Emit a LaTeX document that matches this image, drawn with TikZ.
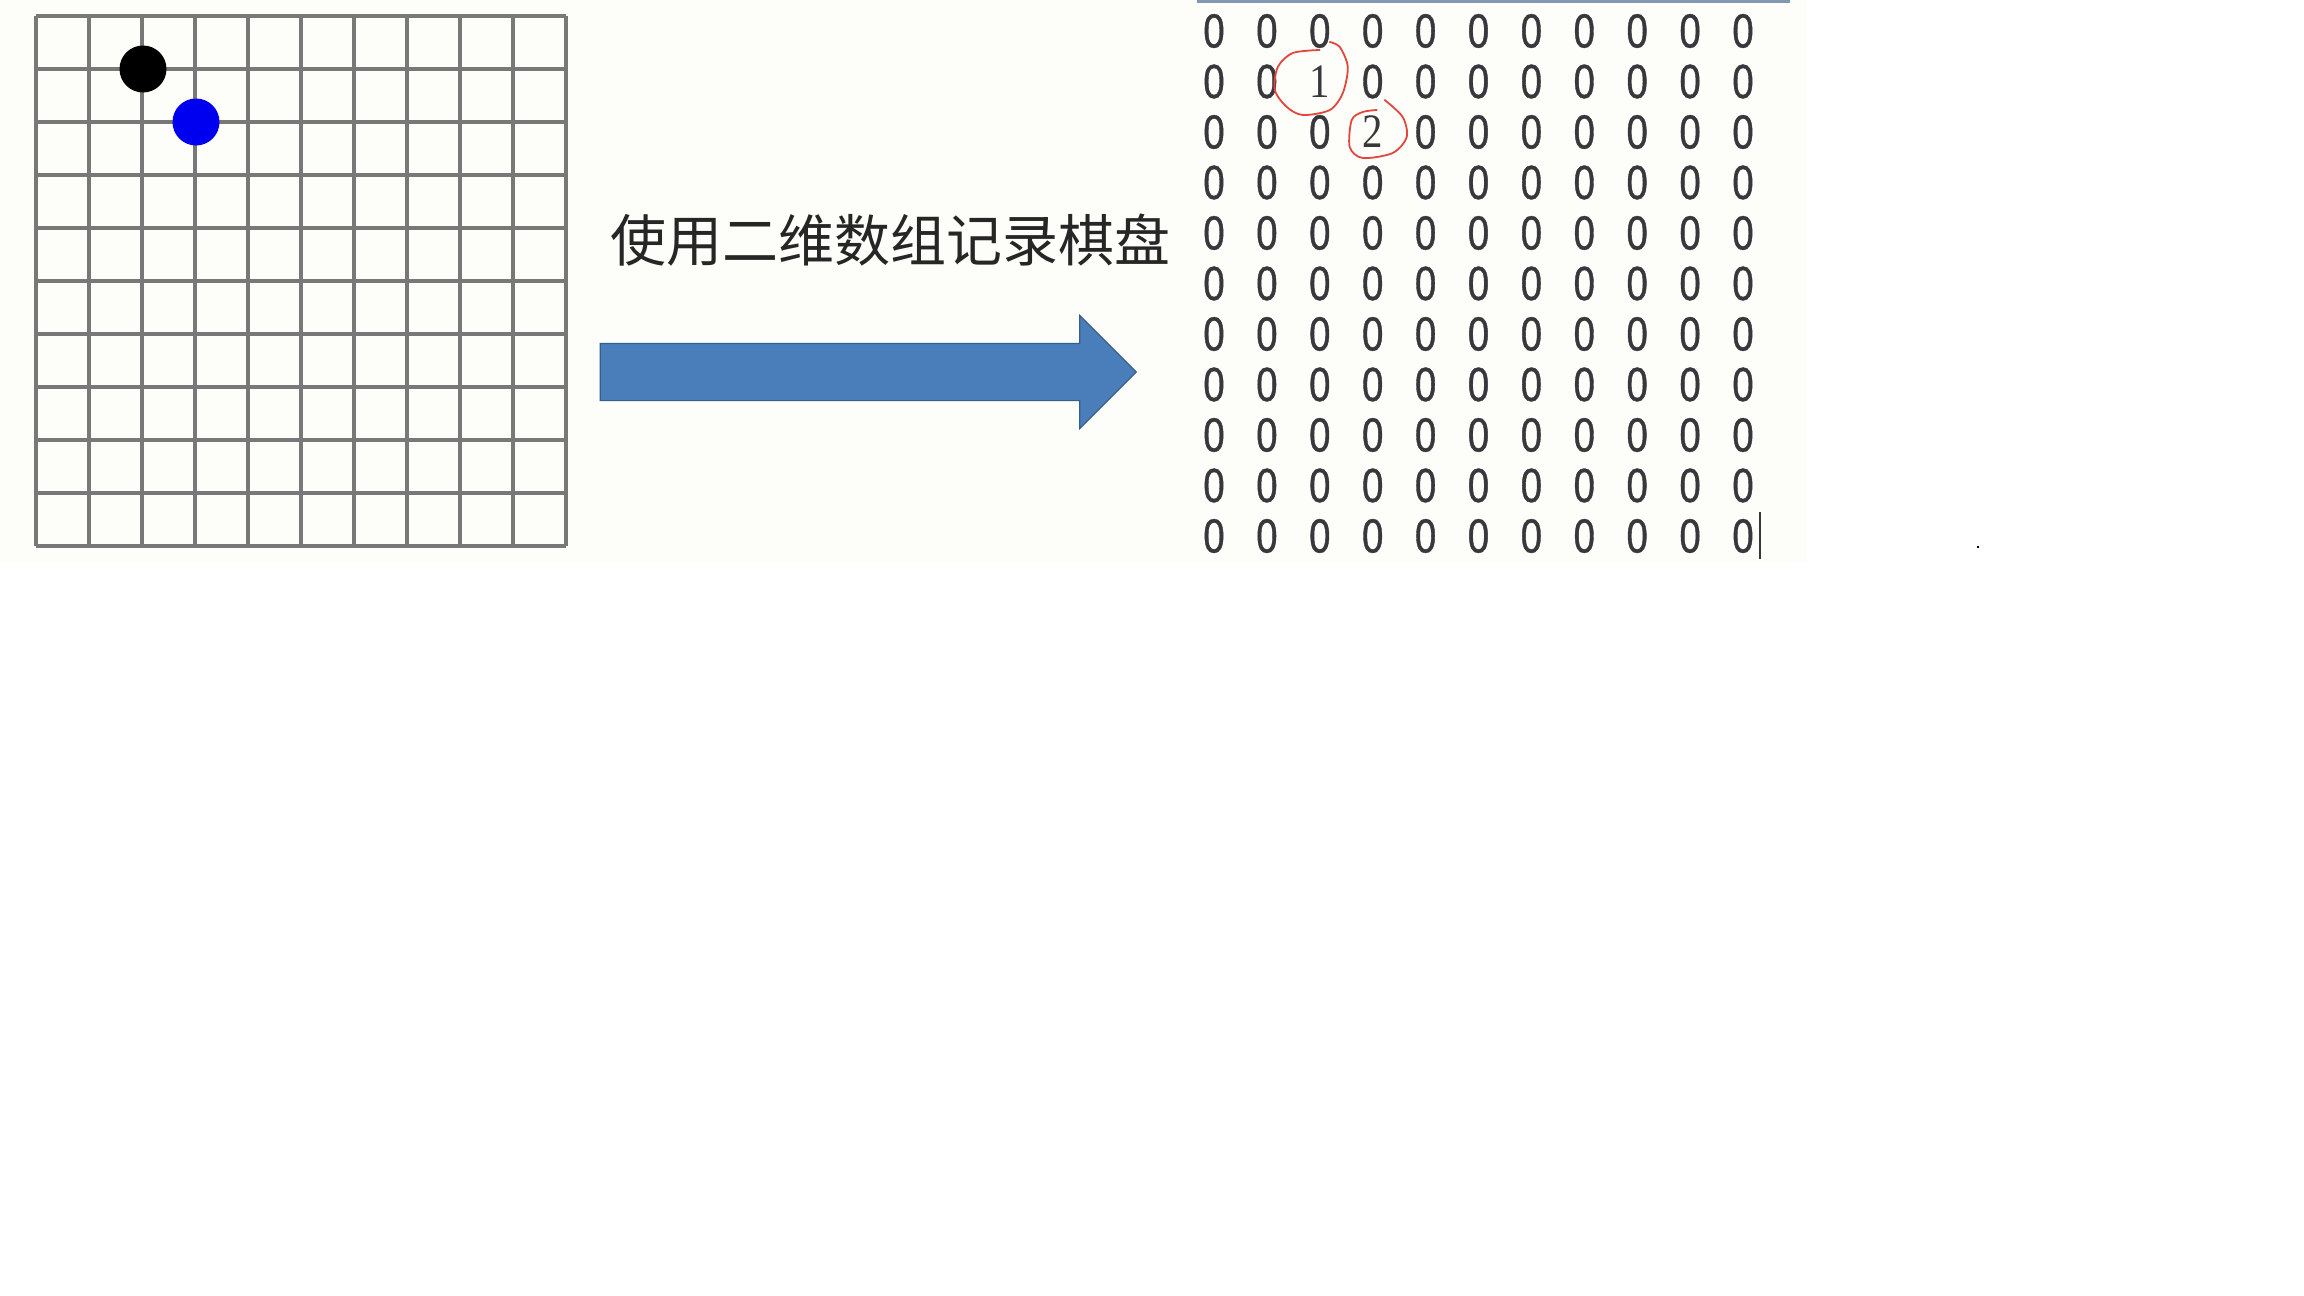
\documentclass[tikz,border=0pt]{standalone}
\usepackage{fontspec}
\setmainfont{Liberation Sans}
\newfontfamily\cjk{Noto Sans CJK SC}
\newfontfamily\digits[FakeStretch=0.8,FakeBold=0.8]{Liberation Sans}
\newfontfamily\markdigits[FakeStretch=0.85]{Liberation Serif}
\usetikzlibrary{shapes.arrows,positioning}
\definecolor{arrowblue}{RGB}{74,126,187}
\definecolor{arrowedge}{RGB}{56,93,138}
\definecolor{gridgray}{RGB}{120,120,120}
\definecolor{markred}{RGB}{226,70,60}
\definecolor{digitgray}{RGB}{55,55,60}
\definecolor{shotbg}{RGB}{253,253,250}
\definecolor{barblue}{RGB}{132,151,176}
\begin{document}
\begin{tikzpicture}[x=0.5pt, y=-0.5pt,
  gridline/.style={draw=gridgray, line width=1.6pt},
  stone/.style={circle, inner sep=0pt, minimum size=23.5pt},
  cell/.style={font=\digits\fontsize{24}{24}\selectfont, text=digitgray, inner sep=0pt},
  redloop/.style={draw=markred, line width=0.9pt, line cap=round}]
\useasboundingbox[fill=white] (0,0) rectangle (2304,1296);
\fill[shotbg] (0,0) rectangle (1807,563);

\foreach \i in {0,...,10}{
  \draw[gridline] (36+53*\i,16) -- (36+53*\i,546);
  \draw[gridline] (36,16+53*\i) -- (566,16+53*\i);
}
\node[stone, fill=black] (black) at (143,69) {};
\node[stone, fill={rgb,255:red,0;green,0;blue,240}] (blue) at (196,122) {};

\node[single arrow, fill=arrowblue, draw=arrowedge, line width=0.6pt, minimum height=268pt, inner xsep=0pt, inner ysep=14pt, single arrow head extend=14pt, single arrow head indent=0pt] (arrow) at (854,372) {};
\node[font=\cjk\fontsize{28}{28}\selectfont, text=black!85] (caption) at (890,240) {使用二维数组记录棋盘};

\draw[barblue, line width=1.5pt] (1197,1.5) -- (1790,1.5);
\foreach \r in {0,...,10}{
  \foreach \c in {0,...,10}{
    \pgfmathtruncatemacro\val{(\r==1)*(\c==2)+2*(\r==2)*(\c==3)}
    \node[cell] (z-\r-\c) at (1214+52.9*\c,31+50.5*\r) {\ifnum\val>0 \markdigits\fi\val};
  }
}
\draw[redloop, shift={(z-1-2)}] plot[smooth] coordinates {(0,-31.5) (-27,-28.5) (-42,-14.5) (-45,8.5) (-33,25.5) (-17,33.5) (10,28.5) (23,11.5) (28,-14.5) (20,-34.5) (10,-39.5)};
\draw[redloop, shift={(z-2-3)}] plot[smooth] coordinates {(12,-32) (30,-15) (34,5) (20,21) (-10,26) (-23,15) (-21,-12) (-10,-20) (4,-22)};
\draw[digitgray, line width=0.8pt] ([xshift=3pt]z-10-10.east) ++(0,-24) -- ++(0,47);
\fill[black] (1977,546) rectangle (1979,548);
\end{tikzpicture}
\end{document}
